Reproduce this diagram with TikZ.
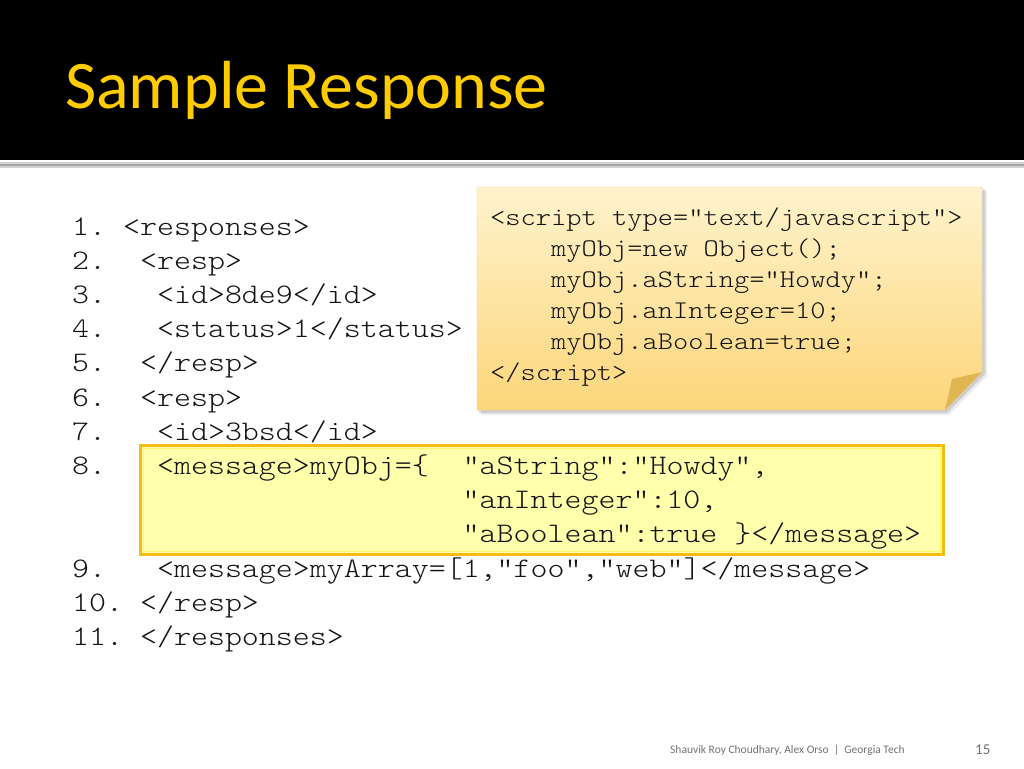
\documentclass[tikz,border=0pt]{standalone}
\usepackage{fontspec}
\setmainfont{Carlito}
\newfontfamily\codefont{lmmonolt10-regular.otf}[FakeStretch=1.143]

\definecolor{titlegold}{RGB}{255,204,0}
\definecolor{codegray}{RGB}{20,20,20}
\definecolor{notetop}{RGB}{255,243,205}
\definecolor{notebot}{RGB}{252,214,122}
\definecolor{noteedge}{RGB}{232,205,140}
\definecolor{foldcol}{RGB}{224,182,82}
\definecolor{hifill}{RGB}{255,255,172}
\definecolor{hiedge}{RGB}{246,188,18}

\tikzset{
  codeline/.style={anchor=base west, inner sep=0pt, text=codegray, font=\fontsize{28.3}{34}\codefont},
  noteline/.style={anchor=base west, inner sep=0pt, text=codegray, font=\fontsize{25.4}{31}\codefont},
}

\begin{document}
\begin{tikzpicture}[x=1pt, y=-1pt]

\useasboundingbox (0,0) rectangle (1024,768);
\fill [white] (0,0) rectangle (1024,768);

% header band
\fill [black] (0,0) rectangle (1024,160);
\fill [gray!35] (0,162) rectangle (1024,168);
\fill [gray!70] (0,164) rectangle (1024,166);
\node [anchor=base west, inner sep=0pt, text=titlegold, font=\fontsize{68}{80}\selectfont] (title) at (65,108) {Sample Response};

% sticky note
\fill [black, opacity=.08] (481,191) -- (987,191) -- (987,376) -- (949,415) -- (481,415) -- cycle;
\fill [black, opacity=.12] (479,189) -- (985,189) -- (985,374) -- (947,413) -- (479,413) -- cycle;
\draw [noteedge, top color=notetop, bottom color=notebot] (477,187) -- (982,187) -- (982,372) -- (945,410) -- (477,410) -- cycle;
\fill [foldcol] (982,372) -- (952,379) -- (945,410) -- cycle;

\node [noteline] (s1) at (490,225) {<script type="text/javascript">};
\node [noteline] (s2) at (490,256) {~~~~myObj=new Object();};
\node [noteline] (s3) at (490,287) {~~~~myObj.aString=“Howdy";};
\node [noteline] (s4) at (490,318) {~~~~myObj.anInteger=10;};
\node [noteline] (s5) at (490,349) {~~~~myObj.aBoolean=true;};
\node [noteline] (s6) at (490,380) {</script>};

% highlight of line 8
\draw [hiedge, line width=3.5pt, fill=hifill] (140.5,445.5) rectangle (943.5,554.5);
\draw [yellow!60!white, line width=.8pt] (143.5,448.5) rectangle (940.5,551.5);

% response listing
\node [codeline] (l1) at (72,235) {1.~<responses>};
\node [codeline] (l2) at (72,269.2) {2.~~<resp>};
\node [codeline] (l3) at (72,303.4) {3.~~~<id>8de9</id>};
\node [codeline] (l4) at (72,337.6) {4.~~~<status>1</status>};
\node [codeline] (l5) at (72,371.8) {5.~~</resp>};
\node [codeline] (l6) at (72,406) {6.~~<resp>};
\node [codeline] (l7) at (72,440.2) {7.~~~<id>3bsd</id>};
\node [codeline] (l8) at (72,474.4) {8.~~~<message>myObj=\{~~"aString":"Howdy",};
\node [codeline] (l8b) at (462.5,508.6) {"anInteger":10,};
\node [codeline] (l8c) at (462.5,542.8) {"aBoolean":true~\}</message>};
\node [codeline] (l9) at (72,577) {9.~~~<message>myArray=[1,"foo","web"]</message>};
\node [codeline] (l10) at (72,611.2) {10.~</resp>};
\node [codeline] (l11) at (72,645.4) {11.~</responses>};

% footer
\node [anchor=base west, inner sep=0pt, text=gray!90!black, font=\fontsize{11.5}{14}\selectfont] (foot) at (670,753) {Shauvik Roy Choudhary, Alex Orso~~|~~Georgia Tech};
\node [anchor=base west, inner sep=0pt, text=gray!90!black, font=\fontsize{15}{18}\selectfont] (page) at (975,754) {15};

\end{tikzpicture}
\end{document}
